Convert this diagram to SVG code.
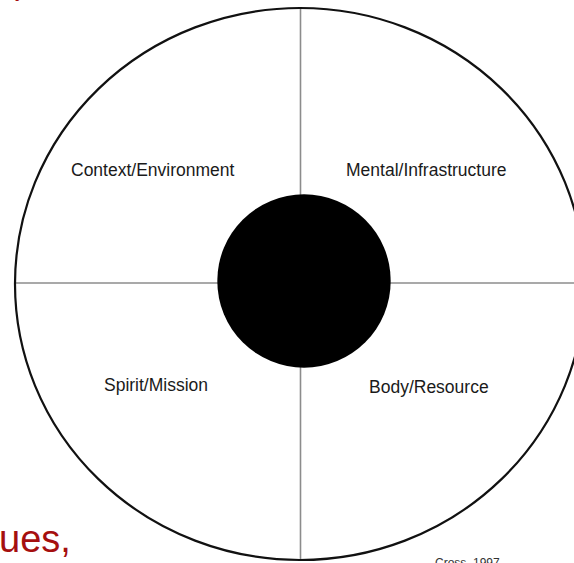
<svg xmlns="http://www.w3.org/2000/svg" width="574" height="563" viewBox="0 0 574 563">
<style>
.lbl{font-family:"Liberation Sans",Arial,sans-serif;font-size:17.5px;fill:#1a1a1a}
.red{font-family:"Liberation Sans",Arial,sans-serif;fill:#a50f0f}
.axis{stroke:#8c8c8c;stroke-width:1.6;fill:none}
</style>
<rect width="574" height="563" fill="#fff"/>
<g id="connectors">
<line class="axis" x1="15" y1="283" x2="574" y2="283"/>
<line class="axis" x1="300.5" y1="8" x2="300.5" y2="560"/>
</g>
<g id="outer">
<ellipse cx="300" cy="284" rx="285" ry="276" fill="none" stroke="#111" stroke-width="2.2"/>
</g>
<g id="core">
<circle cx="304" cy="281" r="86.7" fill="#000"/>
</g>
<g id="q-context"><text class="lbl" x="71" y="176">Context/Environment</text></g>
<g id="q-mental"><text class="lbl" x="346" y="176">Mental/Infrastructure</text></g>
<g id="q-spirit"><text class="lbl" x="104" y="391">Spirit/Mission</text></g>
<g id="q-body"><text class="lbl" x="369" y="393">Body/Resource</text></g>
<text class="red" x="15" y="-7" font-size="36">)</text>
<text class="red" x="-1" y="552" font-size="38">ues,</text>
<text x="435" y="567" font-family="'Liberation Sans',Arial,sans-serif" font-size="12" fill="#333">Cross, 1997</text>
</svg>
